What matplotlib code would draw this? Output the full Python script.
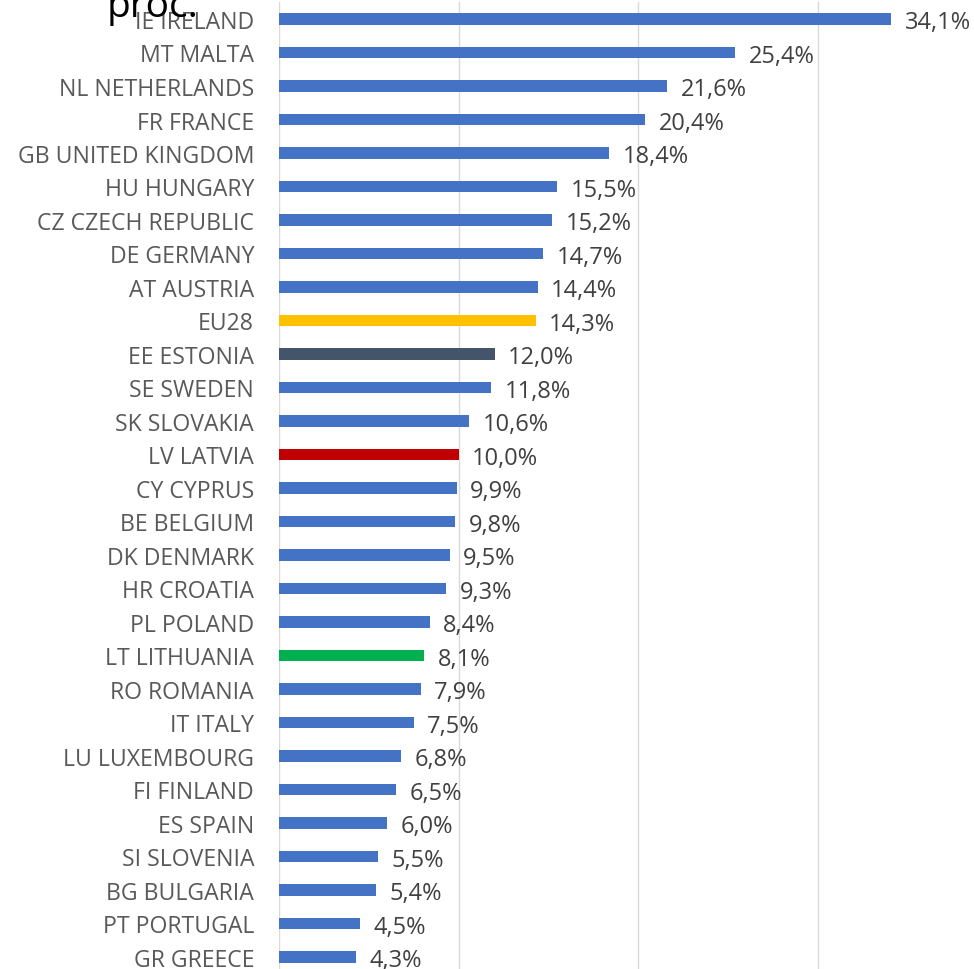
import numpy as np
import matplotlib.pyplot as plt

# data (share, %)
countries = ['IE IRELAND', 'MT MALTA', 'NL NETHERLANDS', 'FR FRANCE', 'GB UNITED KINGDOM',
             'HU HUNGARY', 'CZ CZECH REPUBLIC', 'DE GERMANY', 'AT AUSTRIA', 'EU28',
             'EE ESTONIA', 'SE SWEDEN', 'SK SLOVAKIA', 'LV LATVIA', 'CY CYPRUS',
             'BE BELGIUM', 'DK DENMARK', 'HR CROATIA', 'PL POLAND', 'LT LITHUANIA',
             'RO ROMANIA', 'IT ITALY', 'LU LUXEMBOURG', 'FI FINLAND', 'ES SPAIN',
             'SI SLOVENIA', 'BG BULGARIA', 'PT PORTUGAL', 'GR GREECE']
values = [34.1, 25.4, 21.6, 20.4, 18.4, 15.5, 15.2, 14.7, 14.4, 14.3,
          12.0, 11.8, 10.6, 10.0, 9.9, 9.8, 9.5, 9.3, 8.4, 8.1,
          7.9, 7.5, 6.8, 6.5, 6.0, 5.5, 5.4, 4.5, 4.3]
highlight = {'EU28': '#FFC000', 'EE ESTONIA': '#44546A',
             'LV LATVIA': '#C00000', 'LT LITHUANIA': '#00B050'}

plt.rcParams['font.family'] = ['Open Sans', 'DejaVu Sans']

fig = plt.figure(figsize=(9.74, 9.70), dpi=100)
# axes runs a little below the bottom edge, as in the original crop
top_px, bot_px = 3.25, 974.75
ax = fig.add_axes([279 / 974, 1 - bot_px / 970, 1 - 279 / 974, (bot_px - top_px) / 970])

y = np.arange(len(countries))
colors = [highlight.get(c, '#4472C4') for c in countries]
ax.barh(y, values, height=0.33, color=colors, zorder=3)

for yi, v in zip(y, values):
    ax.text(v + 0.75, yi + 0.1, f'{v:.1f}%'.replace('.', ','), va='center', ha='left',
            fontsize=17, color='#404040')

ax.set_ylim(len(countries) - 0.5, -0.5)
ax.set_xlim(0, 38.7)
ax.set_yticks(y)
ax.set_yticklabels(countries, fontsize=16.6, color='#595959')
ax.set_xticks([0, 10, 20, 30])
ax.set_xticklabels([])
ax.tick_params(axis='both', length=0)
ax.tick_params(axis='y', pad=18)
ax.grid(axis='x', color='#D9D9D9', linewidth=1, zorder=0)
for s in ax.spines.values():
    s.set_visible(False)

fig.text(107 / 974, 1 - 17 / 970, 'proc.', fontsize=28, color='black', va='baseline', ha='left')

fig.savefig('out.png', dpi=100)
